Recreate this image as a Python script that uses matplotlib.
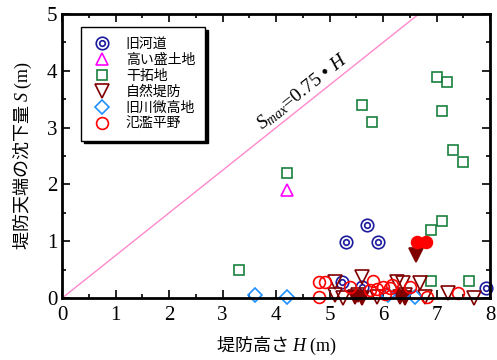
import matplotlib
matplotlib.use("Agg")
import matplotlib.pyplot as plt
from matplotlib.legend_handler import HandlerTuple
from matplotlib.ticker import MultipleLocator

plt.rcParams['font.family'] = ['Liberation Serif', 'Noto Sans CJK JP', 'DejaVu Sans']
plt.rcParams['mathtext.fontset'] = 'custom'
plt.rcParams['mathtext.it'] = 'Liberation Serif:italic'
plt.rcParams['mathtext.rm'] = 'Liberation Serif'

# 旧河道
kyukado_H = [5.3, 5.7, 5.9, 5.23, 5.6, 7.92]
kyukado_S = [0.99, 1.29, 0.99, 0.28, 0.19, 0.18]
# 高い盛土地
morido_H = [4.2]
morido_S = [1.9]
# 干拓地
kantaku_H = [3.3, 4.2, 5.6, 5.8, 7.0, 7.2, 7.1, 7.3, 7.5, 6.9, 7.1, 6.9, 7.6]
kantaku_S = [0.5, 2.2, 3.4, 3.1, 3.9, 3.8, 3.3, 2.6, 2.4, 1.2, 1.35, 0.3, 0.3]
# 自然堤防 (open / filled)
shizen_H = [5.1, 5.6, 6.26, 6.37, 6.69, 5.1, 5.25, 5.53, 5.89, 6.41, 6.79, 7.21, 7.7]
shizen_S = [0.28, 0.37, 0.28, 0.26, 0.26, 0.05, 0.0, 0.05, 0.02, 0.05, 0.02, 0.09, 0.0]
shizen_fill_H = [6.62, 5.48, 5.6, 6.32, 6.41]
shizen_fill_S = [0.76, 0.02, 0.0, 0.02, 0.0]
# 旧川微高地
bikochi_H = [3.6, 4.2, 6.1, 6.6]
bikochi_S = [0.05, 0.02, 0.05, 0.02]
# 氾濫平野 (open / filled)
hanran_H = [4.8, 4.92, 4.8, 5.38, 5.81, 5.76, 5.89, 6.0, 6.04, 6.17, 6.5, 6.82, 7.4, 6.13]
hanran_S = [0.28, 0.28, 0.02, 0.19, 0.3, 0.14, 0.16, 0.19, 0.07, 0.23, 0.19, 0.02, 0.09, 0.18]
hanran_fill_H = [6.64, 6.8]
hanran_fill_S = [0.99, 0.99]

line_H = [0, 8]
coef = 0.75

fig = plt.figure(figsize=(4.97, 3.6), dpi=100)
ax = fig.add_axes([0.125, 0.172, 0.861, 0.789])

ax.plot(line_H, [coef * h for h in line_H], color='#ff88cc', lw=1.0, zorder=1)

kw = dict(linestyle='none', clip_on=False, mew=1.2)
blue = '#1a1a9e'
o1, = ax.plot(kyukado_H, kyukado_S, marker='o', ms=9, mfc='none', mec=blue, **kw)
o2, = ax.plot(kyukado_H, kyukado_S, marker='o', ms=4, mfc='none', mec=blue, **kw)
h2, = ax.plot(morido_H, morido_S, marker='^', ms=9, mfc='none', mec='#ff00ff', **kw)
h3, = ax.plot(kantaku_H, kantaku_S, marker='s', ms=7.5, mfc='none', mec='#1a8040', **kw)
h4, = ax.plot(shizen_H, shizen_S, marker='v', ms=10, mfc='none', mec='#800000', **kw)
ax.plot(shizen_fill_H, shizen_fill_S, marker='v', ms=10, mfc='#800000', mec='#800000', **kw)
h5, = ax.plot(bikochi_H, bikochi_S, marker='D', ms=7, mfc='none', mec='#1e90ff', **kw)
h6, = ax.plot(hanran_H, hanran_S, marker='o', ms=8.5, mfc='none', mec='#ff0000', **kw)
ax.plot(hanran_fill_H, hanran_fill_S, marker='o', ms=8.5, mfc='#ff0000', mec='#ff0000', **kw)

ax.text(4.5, 3.64, r'$S_{max}$=0.75 • $H$', rotation=38.5, rotation_mode='anchor',
        ha='center', va='center', fontsize=14, color='black')

ax.set_xlim(0, 8)
ax.set_ylim(0, 5)
ax.xaxis.set_major_locator(MultipleLocator(1))
ax.xaxis.set_minor_locator(MultipleLocator(0.5))
ax.yaxis.set_major_locator(MultipleLocator(1))
ax.yaxis.set_minor_locator(MultipleLocator(0.5))
ax.tick_params(which='both', direction='in', top=True, right=True, width=1.2, labelsize=15)
ax.tick_params(which='major', length=6)
ax.tick_params(which='minor', length=3)
ax.tick_params(axis='x', pad=6)
for s in ax.spines.values():
    s.set_linewidth(2)

cjk = ['Noto Sans CJK JP', 'Liberation Serif']
ax.set_xlabel(r'堤防高さ $H$ $\mathrm{(m)}$', fontsize=13, labelpad=7, family=cjk)
ax.set_ylabel(r'堤防天端の沈下量 $S$ $\mathrm{(m)}$', fontsize=13, labelpad=9, family=cjk)

leg = ax.legend([(o1, o2), h2, h3, h4, h5, h6],
                ['旧河道', '高い盛土地', '干拓地', '自然堤防', '旧川微高地', '氾濫平野'],
                handler_map={tuple: HandlerTuple(ndivide=1, pad=0)},
                loc='upper left', bbox_to_anchor=(0.045, 0.955), borderaxespad=0,
                fancybox=False, edgecolor='black', framealpha=1,
                shadow={'color': 'black', 'alpha': 1},
                prop={'size': 10, 'family': cjk},
                labelspacing=0.15, handlelength=1.6, handletextpad=0.9, borderpad=0.7)
leg.get_frame().set_linewidth(1.0)

fig.savefig('out.png', dpi=100)
